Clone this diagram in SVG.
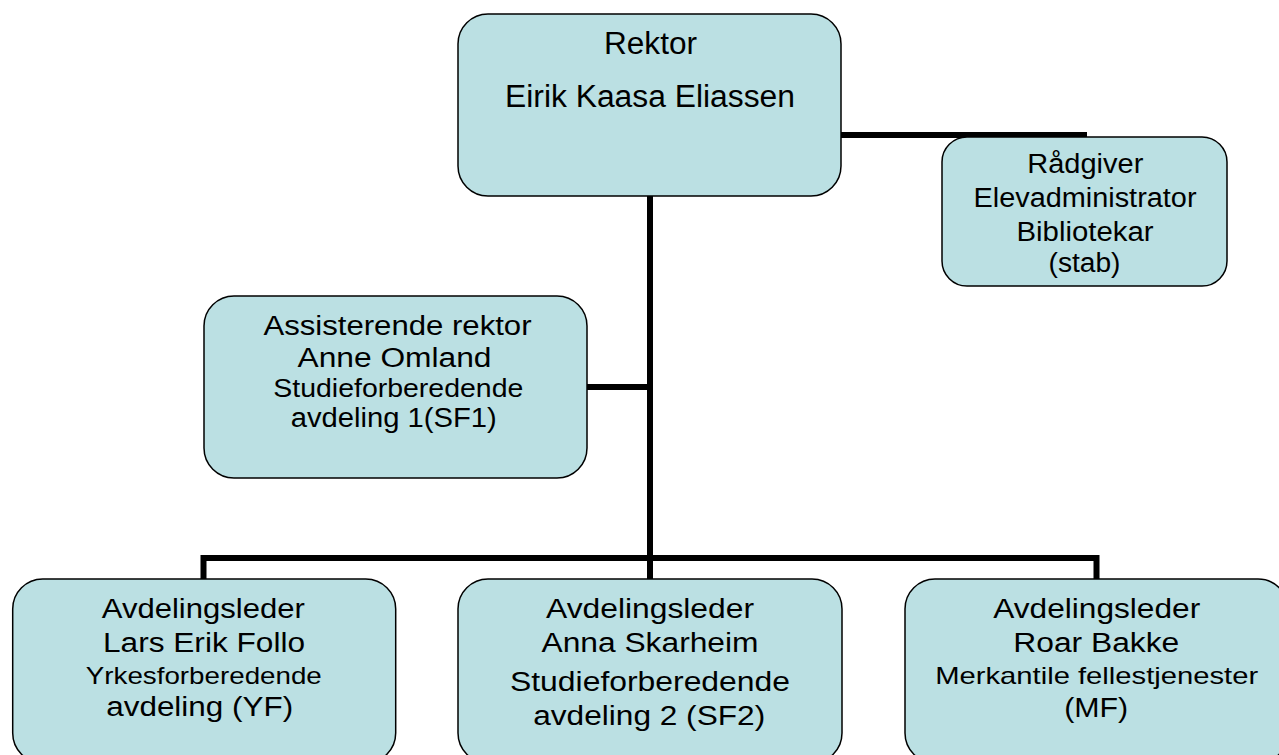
<svg xmlns="http://www.w3.org/2000/svg" width="1279" height="755" viewBox="0 0 1279 755">
<style>
.box{fill:#BBE0E3;stroke:#000;stroke-width:1.5}
.conn{fill:none;stroke:#000;stroke-width:6;stroke-linecap:butt;stroke-linejoin:miter}
text{font-family:"Liberation Sans",Arial,sans-serif;fill:#000;text-anchor:middle}
.big{font-size:31px}
.m{font-size:27px}
.s{font-size:24px}
.s2{font-size:26px}
</style>
<rect width="1279" height="755" fill="#fff"/>
<g id="connectors">
<path class="conn" d="M650 196 V558"/>
<path class="conn" d="M587 387 H650"/>
<path class="conn" d="M841 135 H1087"/>
<path class="conn" d="M203.5 579 V558 H1096.5 V579"/>
<path class="conn" d="M650 558 V579"/>
</g>
<g id="rektor">
<rect class="box" x="458" y="14" width="383" height="182" rx="30" ry="30"/>
<text class="big" x="650.5" y="54" textLength="93" lengthAdjust="spacingAndGlyphs">Rektor</text>
<text class="big" x="650" y="107" textLength="290" lengthAdjust="spacingAndGlyphs">Eirik Kaasa Eliassen</text>
</g>
<g id="stab">
<rect class="box" x="942" y="137" width="285" height="149" rx="25" ry="25"/>
<text class="m" x="1085.3" y="173" textLength="116" lengthAdjust="spacingAndGlyphs">Rådgiver</text>
<text class="m" x="1085" y="207" textLength="223" lengthAdjust="spacingAndGlyphs">Elevadministrator</text>
<text class="m" x="1085" y="241" textLength="137" lengthAdjust="spacingAndGlyphs">Bibliotekar</text>
<text class="m" x="1084.5" y="272" textLength="72" lengthAdjust="spacingAndGlyphs">(stab)</text>
</g>
<g id="assisterende">
<rect class="box" x="204" y="296" width="383" height="182" rx="30" ry="30"/>
<text class="m" x="397.5" y="335" textLength="268" lengthAdjust="spacingAndGlyphs">Assisterende rektor</text>
<text class="m" x="394.5" y="367" textLength="194" lengthAdjust="spacingAndGlyphs">Anne Omland</text>
<text class="s2" x="398.3" y="397" textLength="250" lengthAdjust="spacingAndGlyphs">Studieforberedende</text>
<text class="m" x="393.7" y="427" textLength="206" lengthAdjust="spacingAndGlyphs">avdeling 1(SF1)</text>
</g>
<g id="yf">
<rect class="box" x="12.7" y="579" width="383" height="184" rx="30" ry="30"/>
<text class="m" x="203.3" y="618" textLength="203" lengthAdjust="spacingAndGlyphs">Avdelingsleder</text>
<text class="m" x="204" y="651.5" textLength="202" lengthAdjust="spacingAndGlyphs">Lars Erik Follo</text>
<text class="s" x="203.8" y="683.5" textLength="236" lengthAdjust="spacingAndGlyphs">Yrkesforberedende</text>
<text class="m" x="199.7" y="716" textLength="187" lengthAdjust="spacingAndGlyphs">avdeling (YF)</text>
</g>
<g id="sf2">
<rect class="box" x="458" y="579" width="384" height="184" rx="30" ry="30"/>
<text class="m" x="650" y="618" textLength="208" lengthAdjust="spacingAndGlyphs">Avdelingsleder</text>
<text class="m" x="650" y="651.5" textLength="217" lengthAdjust="spacingAndGlyphs">Anna Skarheim</text>
<text class="m" x="650" y="691" textLength="280" lengthAdjust="spacingAndGlyphs">Studieforberedende</text>
<text class="m" x="649.2" y="725" textLength="232" lengthAdjust="spacingAndGlyphs">avdeling 2 (SF2)</text>
</g>
<g id="mf">
<rect class="box" x="905" y="579" width="383" height="184" rx="30" ry="30"/>
<text class="m" x="1096.7" y="618" textLength="207" lengthAdjust="spacingAndGlyphs">Avdelingsleder</text>
<text class="m" x="1096.3" y="651.5" textLength="166" lengthAdjust="spacingAndGlyphs">Roar Bakke</text>
<text class="s" x="1096.7" y="683.5" textLength="323" lengthAdjust="spacingAndGlyphs">Merkantile fellestjenester</text>
<text class="m" x="1096.2" y="716.5" textLength="64" lengthAdjust="spacingAndGlyphs">(MF)</text>
</g>
</svg>
